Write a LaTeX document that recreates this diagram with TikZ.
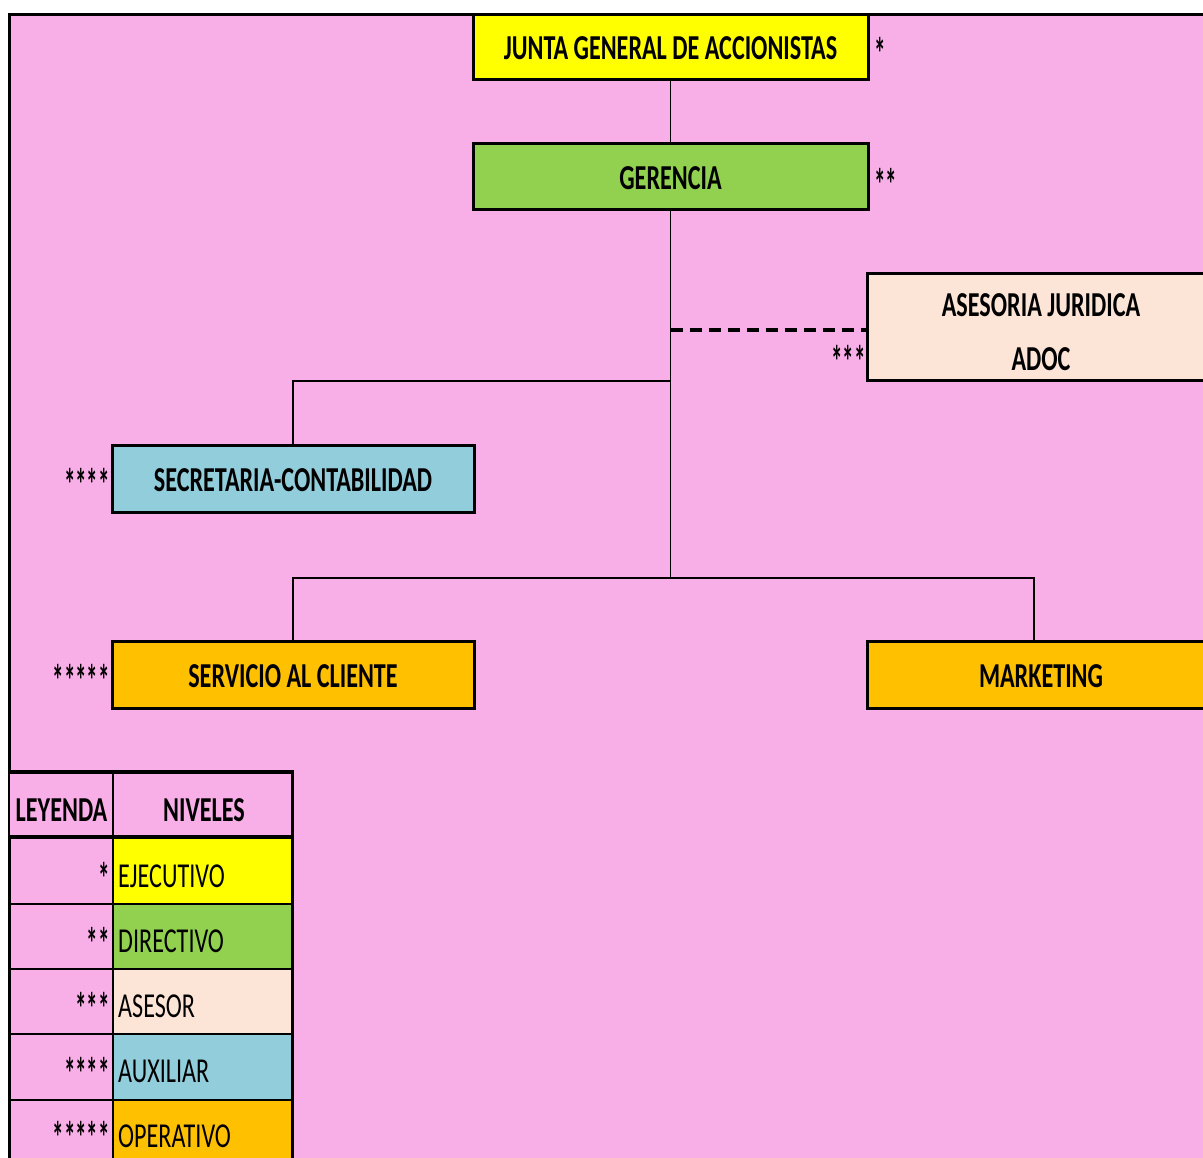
\documentclass[tikz,border=0pt]{standalone}
\usepackage{fontspec}
\setmainfont{Carlito}[FakeStretch=0.69]
\newfontfamily\starfont{Carlito}[FakeStretch=0.51]
\definecolor{bg}{RGB}{248,174,230}
\definecolor{ejec}{RGB}{255,255,0}
\definecolor{dire}{RGB}{146,208,80}
\definecolor{ases}{RGB}{252,229,214}
\definecolor{auxi}{RGB}{146,205,220}
\definecolor{oper}{RGB}{255,192,0}
\tikzset{
  box/.style={draw=black, line width=3pt, inner sep=0pt, text height=25pt, text depth=0pt, font=\bfseries\fontsize{35}{40}\selectfont, text=black},
  boxtext/.style={inner sep=0pt, font=\bfseries\fontsize{35}{40}\selectfont, text=black},
  conn/.style={line width=1.5pt},
  dashconn/.style={line width=4pt, dash pattern=on 12pt off 7pt},
  starlbl/.style={inner sep=0pt, text depth=0pt, font=\starfont\bfseries\fontsize{45}{50}\selectfont},
  legtxt/.style={inner sep=0pt, text depth=0pt, font=\fontsize{35}{40}\selectfont},
  leghead/.style={inner sep=0pt, font=\bfseries\fontsize{35}{40}\selectfont},
  thinrule/.style={line width=2pt},
  thickrule/.style={line width=4pt},
}
\begin{document}
\begin{tikzpicture}[x=1pt,y=-1pt]
\useasboundingbox (0,0) rectangle (1203,1158);
\clip (0,0) rectangle (1203,1158);
\fill[white] (0,0) rectangle (1203,1158);
\fill[bg] (9,14) rectangle (1230,1180);
\draw[line width=3pt] (9.5,1180) -- (9.5,14.5) -- (1230,14.5);

% boxes
\node[box, fill=ejec, minimum width=395pt, minimum height=65pt] (junta) at (670.5,47.5) {JUNTA GENERAL DE ACCIONISTAS};
\node[box, fill=dire, minimum width=395pt, minimum height=66pt] (ger) at (670.5,177) {GERENCIA};
\node[box, fill=ases, minimum width=348pt, minimum height=107pt] (asj) at (1041,327.5) {};
\node[boxtext, align=center] (asjt) at (1041,332) {ASESORIA JURIDICA\\[14pt]ADOC};
\node[box, fill=auxi, minimum width=362pt, minimum height=67pt] (sec) at (293,478.5) {SECRETARIA-CONTABILIDAD};
\node[box, fill=oper, minimum width=362pt, minimum height=67pt] (serv) at (293,674.5) {SERVICIO AL CLIENTE};
\node[box, fill=oper, minimum width=348pt, minimum height=67pt] (mkt) at (1041,674.5) {MARKETING};

% connectors
\coordinate (d0) at (670.5,330);
\coordinate (b1) at (670.5,381);
\coordinate (b2) at (670.5,578);
\draw[conn] (junta.south) -- (ger.north);
\draw[conn] (ger.south) -- (b2);
\draw[conn] (b1) -| (sec.north);
\draw[conn] (b2) -| (serv.north);
\draw[conn] (b2) -| ([xshift=-7pt]mkt.north);
\draw[dashconn] (d0) -- (d0 -| asj.west);

% level stars
\node[starlbl, anchor=base west] (s1) at (874,70) {*};
\node[starlbl, anchor=base west] (s2) at (874,201) {**};
\node[starlbl, anchor=base east] (s3) at (866,378) {***};
\node[starlbl, anchor=base east] (s4) at (110,500) {****};
\node[starlbl, anchor=base east] (s5) at (110,696) {*****};

% legend table
\fill[bg] (10,771) rectangle (293,837);
\fill[ejec] (113,837) rectangle (293,904);
\fill[dire] (113,904) rectangle (293,969);
\fill[ases] (113,969) rectangle (293,1034);
\fill[auxi] (113,1034) rectangle (293,1100);
\fill[oper] (113,1100) rectangle (293,1180);
\draw[thinrule] (113,771) -- (113,1180);
\draw[thinrule] (10,904) -- (293,904);
\draw[thinrule] (10,969) -- (293,969);
\draw[thinrule] (10,1034) -- (293,1034);
\draw[thinrule] (10,1100) -- (293,1100);
\draw[thickrule] (10,772) -- (293,772);
\draw[thickrule] (10,837) -- (293,837);
\draw[line width=3pt] (292,770) -- (292,1180);

\node[leghead, anchor=base] (hl) at (61.5,821) {LEYENDA};
\node[leghead, anchor=base] (hn) at (204,821) {NIVELES};
\node[starlbl, anchor=base east] (l1s) at (110,894) {*};
\node[legtxt, anchor=base west] (l1) at (118,887) {EJECUTIVO};
\node[starlbl, anchor=base east] (l2s) at (110,959) {**};
\node[legtxt, anchor=base west] (l2) at (118,952) {DIRECTIVO};
\node[starlbl, anchor=base east] (l3s) at (110,1024) {***};
\node[legtxt, anchor=base west] (l3) at (118,1017) {ASESOR};
\node[starlbl, anchor=base east] (l4s) at (110,1089) {****};
\node[legtxt, anchor=base west] (l4) at (118,1082) {AUXILIAR};
\node[starlbl, anchor=base east] (l5s) at (110,1153) {*****};
\node[legtxt, anchor=base west] (l5) at (118,1147) {OPERATIVO};
\end{tikzpicture}
\end{document}
